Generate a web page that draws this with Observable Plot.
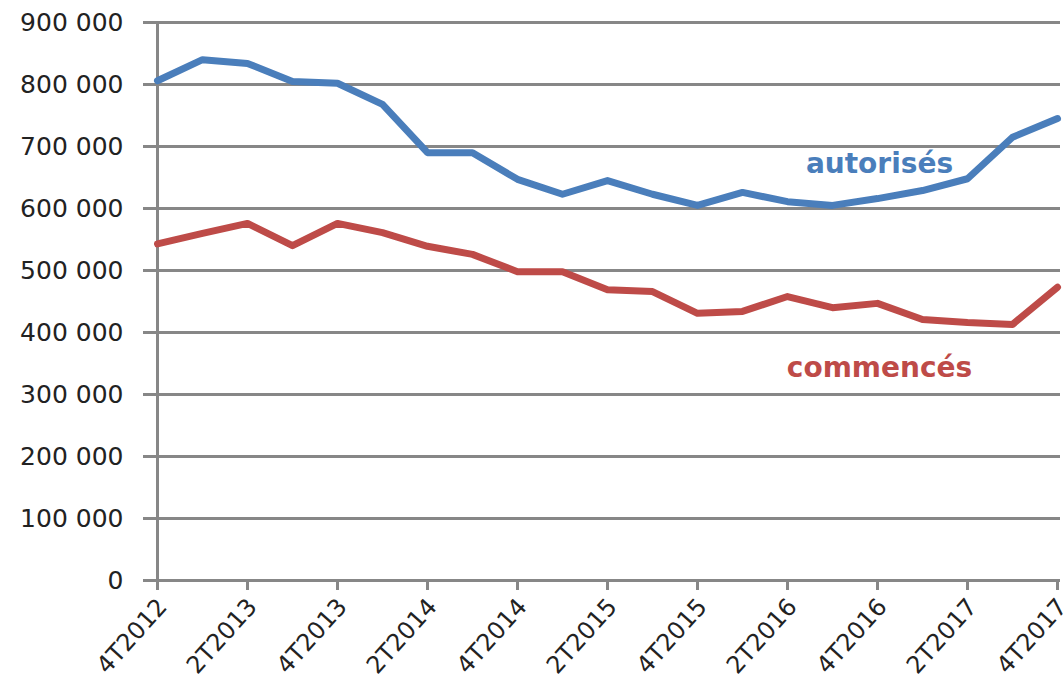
<!DOCTYPE html>
<html>
<head>
<meta charset="utf-8">
<script src="https://cdn.jsdelivr.net/npm/d3@7"></script>
<script src="https://cdn.jsdelivr.net/npm/@observablehq/plot@0.6"></script>
<style>
  html, body { margin: 0; padding: 0; background: #fff; }
  #chart svg { display: block; }
</style>
</head>
<body>
<div id="chart"></div>
<script>
const quarters = ["4T2012","1T2013","2T2013","3T2013","4T2013","1T2014","2T2014","3T2014","4T2014","1T2015","2T2015","3T2015","4T2015","1T2016","2T2016","3T2016","4T2016","1T2017","2T2017","3T2017","4T2017"];
const autorises = [806000,840000,834000,805000,802000,768000,690000,690000,647000,623000,645000,623000,605000,626000,611000,605000,616000,629000,648000,715000,745000];
const commences = [543000,560000,576000,540000,576000,561000,539000,526000,498000,498000,469000,466000,431000,434000,458000,440000,447000,421000,416000,413000,473000];
const yTicks = [0,100000,200000,300000,400000,500000,600000,700000,800000,900000];
const xTickLabels = quarters.filter((d, i) => i % 2 === 0);
const seriesLabels = [
  {name: "autorisés", x: "4T2016", y: 672000, color: "#4a7ebb"},
  {name: "commencés", x: "4T2016", y: 343000, color: "#be4b48"}
];

const rowsA = quarters.map((q, i) => ({q, v: autorises[i]}));
const rowsC = quarters.map((q, i) => ({q, v: commences[i]}));
const fmt = d => d3.format(",")(d).replace(/,/g, " ");
const gray = "#878787";

const chart = Plot.plot({
  width: 1063,
  height: 695,
  marginLeft: 153,
  marginRight: 3,
  marginTop: 22,
  marginBottom: 115,
  style: {fontFamily: "DejaVu Sans", fontSize: "24px", color: "#222", background: "#fff"},
  x: {type: "point", domain: quarters, padding: 0, range: [153, 1060]},
  y: {domain: [0, 900000], range: [580, 22]},
  marks: [
    Plot.ruleY(yTicks, {stroke: gray, strokeWidth: 3}),
    Plot.ruleX([quarters[0]], {stroke: gray, strokeWidth: 3}),
    Plot.axisY({ticks: yTicks, tickFormat: fmt, tickSize: 10, tickPadding: 20, stroke: gray, strokeWidth: 3, strokeOpacity: 1, fill: "#222", label: null, fontSize: 25}),
    Plot.axisX({ticks: xTickLabels, tickSize: 10, tickFormat: () => "", stroke: gray, strokeWidth: 3, strokeOpacity: 1, label: null}),
    Plot.axisX({ticks: xTickLabels, tickSize: 0, tickRotate: -48, tickPadding: 22, dx: 5, strokeOpacity: 0, fill: "#222", label: null, fontSize: 24}),
    Plot.line(rowsA, {x: "q", y: "v", stroke: "#4a7ebb", strokeWidth: 7, strokeLinejoin: "round"}),
    Plot.line(rowsC, {x: "q", y: "v", stroke: "#be4b48", strokeWidth: 7, strokeLinejoin: "round"}),
    Plot.text(seriesLabels, {x: "x", y: "y", text: "name", fill: "color", fontWeight: "bold", fontSize: 28, textAnchor: "middle", dx: 2})
  ]
});
document.getElementById("chart").appendChild(chart);
</script>
</body>
</html>
